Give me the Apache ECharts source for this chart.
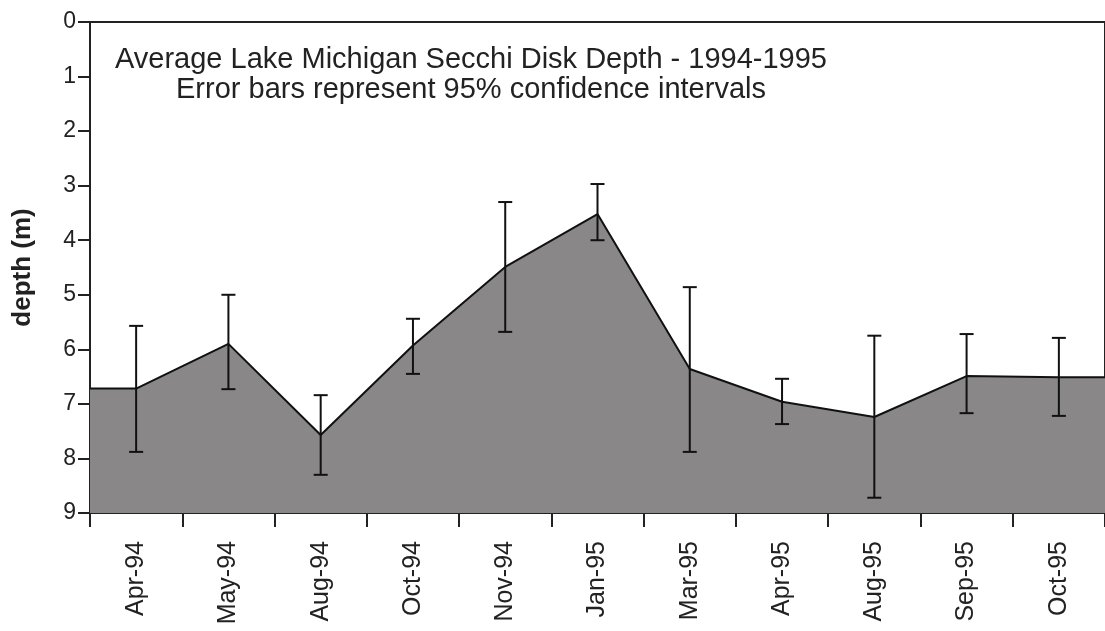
<!DOCTYPE html>
<html>
<head>
<meta charset="utf-8">
<script src="https://cdn.jsdelivr.net/npm/echarts@6/dist/echarts.min.js"></script>
<style>
  html, body { margin: 0; padding: 0; background: #fff; }
  #main { width: 1105px; height: 631px; }
</style>
</head>
<body>
<div id="main"></div>
<script>
"use strict";

// sampling dates
const months = ["Apr-94", "May-94", "Aug-94", "Oct-94", "Nov-94", "Jan-95",
  "Mar-95", "Apr-95", "Aug-95", "Sep-95", "Oct-95"];
// mean secchi depth (m)
const depth = [6.72, 5.90, 7.57, 5.93, 4.49, 3.52, 6.36, 6.96, 7.24, 6.49, 6.51];
// 95% CI ends
const ciLow = [5.57, 5.00, 6.84, 5.44, 3.30, 2.97, 4.86, 6.54, 5.75, 5.72, 5.79];
const ciHigh = [7.88, 6.73, 8.30, 6.45, 5.68, 4.00, 7.88, 7.37, 8.72, 7.17, 7.22];
const yTicks = [0, 1, 2, 3, 4, 5, 6, 7, 8, 9];

const n = months.length;
// line runs flat out to the plot edges, like the original
let linePts = [[-0.5, depth[0]]];
depth.forEach((d, i) => linePts.push([i, d]));
linePts.push([n - 0.5, depth[n - 1]]);

const errData = months.map((m, i) => [i, ciLow[i], ciHigh[i]]);

const font = "'Liberation Sans', Arial, sans-serif";

let myChart = echarts.init(document.getElementById('main'));

let option = {
  animation: false,
  backgroundColor: '#fff',
  title: {
    text: "Average Lake Michigan Secchi Disk Depth - 1994-1995\nError bars represent 95% confidence intervals",
    left: 466,
    top: 40,
    textAlign: 'center',
    textStyle: {
      fontFamily: font,
      fontSize: 29,
      fontWeight: 'normal',
      lineHeight: 30,
      color: '#222',
    },
  },
  grid: {
    left: 90,
    top: 22,
    bottom: 118,
    right: -10,
    show: true,
    borderColor: '#222',
    borderWidth: 2,
    backgroundColor: 'transparent',
  },
  xAxis: [
    {
      type: 'category',
      data: months,
      boundaryGap: true,
      axisLine: { onZero: false, lineStyle: { color: '#222', width: 2 } },
      axisTick: { show: true, length: 14, interval: 0, lineStyle: { color: '#222', width: 2 } },
      axisLabel: {
        rotate: 90,
        interval: 0,
        margin: 28,
        fontFamily: font,
        fontSize: 25,
        color: '#222',
      },
      splitLine: { show: false },
    },
    {
      type: 'value',
      min: -0.5,
      max: n - 0.5,
      show: false,
      splitLine: { show: false },
    },
  ],
  yAxis: {
    type: 'value',
    inverse: true,
    min: yTicks[0],
    max: yTicks[yTicks.length - 1],
    interval: 1,
    name: 'depth (m)',
    nameLocation: 'middle',
    nameGap: 54,
    nameRotate: 90,
    nameTextStyle: {
      fontFamily: font,
      fontSize: 26,
      fontWeight: 'bold',
      color: '#222',
    },
    axisLine: { show: true, onZero: false, lineStyle: { color: '#222', width: 2 } },
    axisTick: { show: true, length: 12, lineStyle: { color: '#222', width: 2 } },
    axisLabel: {
      margin: 14,
      fontFamily: font,
      fontSize: 23,
      color: '#222',
    },
    splitLine: { show: false },
  },
  series: [
    {
      type: 'line',
      xAxisIndex: 1,
      data: linePts,
      symbol: 'none',
      lineStyle: { color: '#111', width: 2 },
      areaStyle: { color: '#898787', opacity: 1, origin: 'end' },
      z: 2,
    },
    {
      type: 'custom',
      xAxisIndex: 1,
      data: errData,
      z: 3,
      renderItem: function (params, api) {
        let x = api.value(0);
        let top = api.coord([x, api.value(1)]);
        let bot = api.coord([x, api.value(2)]);
        let w = 7;
        let style = { stroke: '#111', lineWidth: 2 };
        return {
          type: 'group',
          children: [
            { type: 'line', shape: { x1: top[0], y1: top[1], x2: bot[0], y2: bot[1] }, style: style },
            { type: 'line', shape: { x1: top[0] - w, y1: top[1], x2: top[0] + w, y2: top[1] }, style: style },
            { type: 'line', shape: { x1: bot[0] - w, y1: bot[1], x2: bot[0] + w, y2: bot[1] }, style: style },
          ],
        };
      },
    },
  ],
};

myChart.setOption(option);
</script>
</body>
</html>
